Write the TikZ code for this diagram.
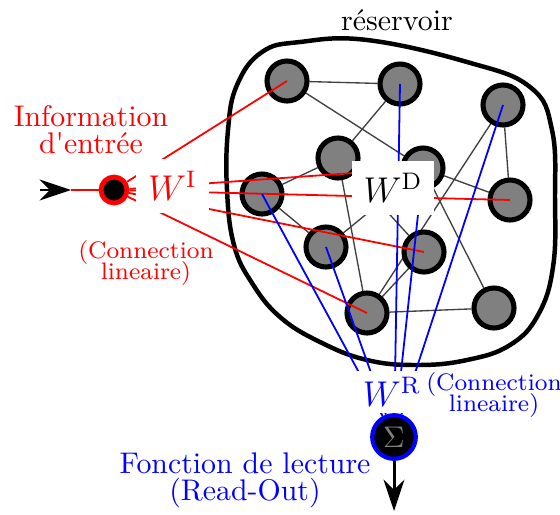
\documentclass[tikz,border=0pt]{standalone}
\usepackage{xcolor}
\usepackage{tikz}
\usetikzlibrary{arrows.meta, backgrounds}

\begin{document}
\begin{tikzpicture}[x=0.335pt, y=-0.335pt, >=Stealth,
    neurone/.style={circle, draw=black, line width=1.7pt, fill=gray, minimum size=13.4pt, inner sep=0pt},
    poids/.style={fill=white, inner sep=4pt, font=\large},
    lien/.style={black!75, line width=0.45pt},
    entree/.style={red, line width=0.6pt},
    lecture/.style={blue, line width=0.6pt},
    fleche/.style={-{Stealth[length=10.5pt, width=7pt]}, line width=1pt}]

    \useasboundingbox (0,0) rectangle (560,514);

    % --- réservoir ---
    \node (titre) at (397,20) {réservoir};
    \draw[line width=1.5pt] plot[smooth cycle, tension=0.7] coordinates {
        (300,42) (367,40) (467,62) (530,87) (552,130) (555,200) (553,267)
        (538,315) (510,345) (467,360) (417,365) (367,360) (320,342) (280,317)
        (252,283) (234,245) (227,190) (228,130) (237,85) (262,52)};

    % neurones du réservoir
    \node[neurone] (n1) at (287,81) {};
    \node[neurone] (n2) at (400,84) {};
    \node[neurone] (n3) at (503,105) {};
    \node[neurone] (n4) at (338,158) {};
    \node[neurone] (n5) at (423,168) {};
    \node[neurone] (n6) at (262,194) {};
    \node[neurone] (n7) at (510,200) {};
    \node[neurone] (n8) at (326,247) {};
    \node[neurone] (n9) at (424,252) {};
    \node[neurone] (n10) at (367,313) {};
    \node[neurone] (n11) at (494,308) {};

    % connexions internes (derrière les neurones)
    \begin{scope}[on background layer]
        \draw[lien] (n1) -- (n2);
        \draw[lien] (n1) -- (n5);
        \draw[lien] (n2) -- (n4);
        \draw[lien] (n3) -- (n7);
        \draw[lien] (n3) -- (n10);
        \draw[lien] (n4) -- (n6);
        \draw[lien] (n4) -- (n9);
        \draw[lien] (n4) -- (n10);
        \draw[lien] (n5) -- (n7);
        \draw[lien] (n5) -- (n8);
        \draw[lien] (n5) -- (n11);
        \draw[lien] (n6) -- (n8);
        \draw[lien] (n9) -- (n10);
        \draw[lien] (n10) -- (n11);
    \end{scope}

    % --- entrée ---
    \coordinate (a0) at (40,190);
    \coordinate (a1) at (71,190);
    \node[circle, draw=red, line width=1.6pt, fill=black, minimum size=8.7pt, inner sep=0pt] (inp) at (114,190) {};
    \draw[red, line width=0.9pt] (a1) -- (inp);
    \draw[fleche] (a0) -- (a1);

    % liens d'entrée
    \draw[entree] (inp) -- (n1.center);
    \draw[entree] (inp) -- (n5.center);
    \draw[entree] (inp) -- (n7.center);
    \draw[entree] (inp) -- (n9.center);
    \draw[entree] (inp) -- (n10.center);

    % --- lecture ---
    \coordinate (sortie) at (394,511);
    \node[circle, draw=blue, line width=1.4pt, fill=black, text=gray, minimum size=14.6pt, inner sep=0pt] (somme) at (394,437) {$\Sigma$};
    \draw[fleche] (somme) -- (sortie);

    % liens de lecture
    \draw[lecture] (n2.center) -- (somme);
    \draw[lecture] (n3.center) -- (somme);
    \draw[lecture] (n5.center) -- (somme);
    \draw[lecture] (n6.center) -- (somme);
    \draw[lecture] (n8.center) -- (somme);

    % --- poids ---
    \node[poids, text=red] (wi) at (172.5,186) {$W^{\mathrm{I}}$};
    \node[poids] (wd) at (393,188) {$W^{\mathrm{D}}$};
    \node[poids, text=blue, inner sep=2pt] (wr) at (392,392) {$W^{\mathrm{R}}$};

    % --- textes ---
    \node[red, align=center] (info) at (91,130) {Information\\[-3pt]d\textquotesingle entrée};
    \node[red, align=center, font=\footnotesize] (conI) at (146,263) {(Connection\\[-2.3pt]lineaire)};
    \node[blue, align=center, font=\footnotesize] (conR) at (494,395) {(Connection\\[-2.3pt]lineaire)};
    \node[blue, align=center] (fct) at (245,480) {Fonction de lecture\\[-3pt](Read-Out)};

\end{tikzpicture}
\end{document}
